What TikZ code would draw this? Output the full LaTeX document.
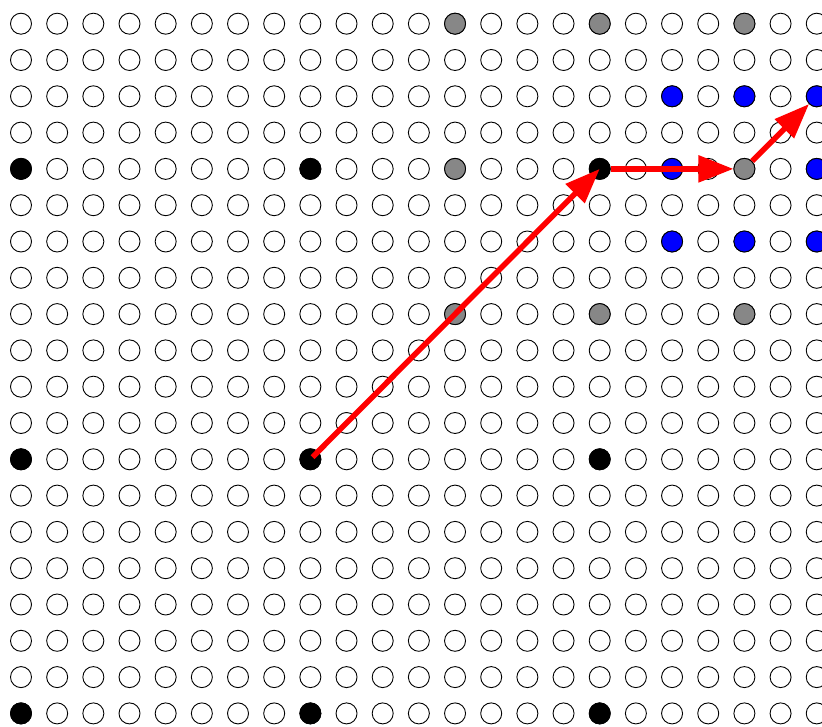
\documentclass[tikz,border=0pt]{standalone}
\usetikzlibrary{arrows.meta}
\begin{document}
\begin{tikzpicture}[x=1pt,y=1pt,
  dot/.style={circle,draw=black,line width=0.9pt,minimum size=21pt,inner sep=0pt},
  opendot/.style={dot,fill=white},
  blkdot/.style={dot,fill=black},
  grydot/.style={dot,fill=black!47},
  bludot/.style={dot,fill=blue},
  arr/.style={draw=red,line width=5.5pt,-{Triangle[length=35pt,width=26pt]}}
]
\useasboundingbox (0,0) rectangle (822,726);
\foreach \r in {0,...,19}{\foreach \c in {0,...,22}{
  \node[opendot] (n-\r-\c) at ({21+36.17*\c},{702.3-36.3*\r}) {};}}
% black dots
\foreach \r/\c in {4/0,4/8,4/16,12/0,12/8,12/16,19/0,19/8,19/16}
  \node[blkdot] (k-\r-\c) at (n-\r-\c) {};
% gray dots
\foreach \r/\c in {0/12,0/16,0/20,4/12,4/20,8/12,8/16,8/20}
  \node[grydot] (g-\r-\c) at (n-\r-\c) {};
% blue dots
\foreach \r/\c in {2/18,2/20,2/22,4/18,4/22,6/18,6/20,6/22}
  \node[bludot] (b-\r-\c) at (n-\r-\c) {};
% arrows
\draw[arr,shorten <=3pt] (k-12-8.center) -- (k-4-16.center);
\draw[arr] (k-4-16.east) -- (g-4-20.west);
\draw[arr] (g-4-20) -- (b-2-22);
\end{tikzpicture}
\end{document}
